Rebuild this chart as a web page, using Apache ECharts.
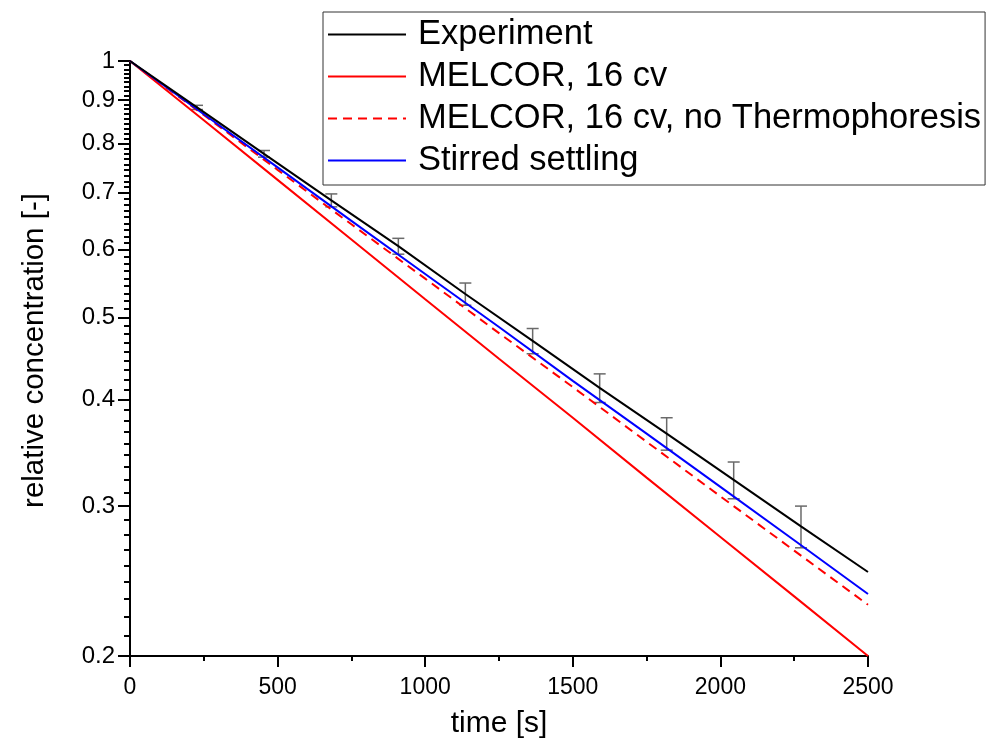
<!DOCTYPE html>
<html><head><meta charset="utf-8">
<script src="https://cdn.jsdelivr.net/npm/echarts@6/dist/echarts.min.js"></script>
<style>html,body{margin:0;padding:0;background:#fff}#c{width:1000px;height:749px}</style>
</head><body><div id="c"></div>
<script>
// ---- data ----
const expTime   = [0, 227, 454, 682, 909, 1136, 1364, 1591, 1818, 2045, 2273, 2500];
const expValue  = [1, 0.882, 0.778, 0.686, 0.606, 0.5325, 0.469, 0.413, 0.365, 0.322, 0.284, 0.251];
const errTime   = [227, 454, 682, 909, 1136, 1364, 1591, 1818, 2045, 2273];
const errCenter = [0.882, 0.778, 0.686, 0.606, 0.5325, 0.469, 0.413, 0.365, 0.322, 0.284];
const errHalf   = [0.005, 0.007, 0.012, 0.013, 0.016, 0.016, 0.016, 0.016, 0.016, 0.016];
const modelTime = [0, 250, 500, 750, 1000, 1250, 1500, 1750, 2000, 2250, 2500];
const melcor16  = [1, 0.852, 0.725, 0.617, 0.525, 0.447, 0.381, 0.324, 0.276, 0.235, 0.200];
const melcorNoT = [1, 0.864, 0.745, 0.643, 0.555, 0.479, 0.414, 0.357, 0.308, 0.266, 0.2297];
const stirred   = [1, 0.866, 0.750, 0.649, 0.562, 0.487, 0.421, 0.365, 0.316, 0.2735, 0.2365];
const yTickLabels = ['0.2','0.3','0.4','0.5','0.6','0.7','0.8','0.9','1'];
const xTickLabels = ['0','500','1000','1500','2000','2500'];
const seriesNames = ['Experiment', 'MELCOR, 16 cv', 'MELCOR, 16 cv, no Thermophoresis', 'Stirred settling'];

// ---- helpers ----
const L = v => Math.log10(v);
const yMajor = yTickLabels.map(s => L(parseFloat(s)));
const yMinor = [];
for (let i = 0; i < yTickLabels.length - 1; i++) {
  const a = parseFloat(yTickLabels[i]), b = parseFloat(yTickLabels[i + 1]);
  for (let k = 1; k <= 8; k++) yMinor.push(L(a + (b - a) * k / 9));
}
const labelFor = v => {
  let best = 0;
  yMajor.forEach((m, i) => { if (Math.abs(m - v) < Math.abs(yMajor[best] - v)) best = i; });
  return yTickLabels[best];
};
const pair = (xs, ys) => xs.map((x, i) => [x, L(ys[i])]);
const FONT = 'Liberation Sans, Arial, sans-serif';

const chart = echarts.init(document.getElementById('c'), null, {renderer: 'canvas'});
const yBase = {
  type: 'value', min: L(0.2), max: 0, position: 'left', offset: 0,
  splitLine: {show: false}
};
chart.setOption({
  animation: false,
  backgroundColor: '#fff',
  grid: {left: 130, right: 132, top: 61, bottom: 93, containLabel: false},
  legend: {
    data: seriesNames, orient: 'vertical', left: 323, top: 12,
    itemWidth: 78, itemHeight: 4, itemGap: 7,
    padding: [5, 4, 7, 4],
    borderColor: '#333', borderWidth: 1, backgroundColor: '#fff',
    itemStyle: {opacity: 0},
    textStyle: {fontSize: 34.5, fontFamily: FONT, color: '#000', padding: [0, 0, 0, 7]}
  },
  xAxis: {
    type: 'value', min: 0, max: 2500, interval: 500,
    name: 'time [s]', nameLocation: 'middle', nameGap: 53,
    nameTextStyle: {fontSize: 30, fontFamily: FONT, color: '#000'},
    axisLine: {show: true, onZero: false, lineStyle: {color: '#000', width: 2}},
    axisTick: {show: true, length: 11, lineStyle: {color: '#000', width: 2}},
    minorTick: {show: true, splitNumber: 2, length: 5, lineStyle: {color: '#000', width: 2}},
    axisLabel: {fontSize: 23, fontFamily: FONT, color: '#000', margin: 20,
      formatter: v => xTickLabels[Math.round(v / 500)]},
    splitLine: {show: false}
  },
  yAxis: [
    Object.assign({}, yBase, {
      name: 'relative concentration [-]', nameLocation: 'middle', nameGap: 80,
      nameTextStyle: {fontSize: 29.5, fontFamily: FONT, color: '#000', padding: [0, 0, 0, 16]},
      axisLine: {show: true, onZero: false, lineStyle: {color: '#000', width: 2}},
      axisTick: {show: true, length: 12, customValues: yMajor, lineStyle: {color: '#000', width: 2}},
      axisLabel: {show: true, customValues: yMajor, fontSize: 24, fontFamily: FONT, color: '#000', margin: 15,
        formatter: v => labelFor(v)}
    }),
    Object.assign({}, yBase, {
      axisLine: {show: false},
      axisTick: {show: true, length: 6, customValues: yMinor, lineStyle: {color: '#000', width: 2}},
      axisLabel: {show: false}
    })
  ],
  series: [
    {
      type: 'custom', name: 'errors', yAxisIndex: 0, z: 1,
      data: errTime.map((t, i) => [t, L(errCenter[i] - errHalf[i]), L(errCenter[i] + errHalf[i])]),
      renderItem: (params, api) => {
        const x = api.value(0);
        const lo = api.coord([x, api.value(1)]);
        const hi = api.coord([x, api.value(2)]);
        const w = 6, st = {stroke: '#6a6a6a', lineWidth: 1.5};
        return {type: 'group', children: [
          {type: 'line', shape: {x1: lo[0], y1: lo[1], x2: hi[0], y2: hi[1]}, style: st},
          {type: 'line', shape: {x1: hi[0] - w, y1: hi[1], x2: hi[0] + w, y2: hi[1]}, style: st},
          {type: 'line', shape: {x1: lo[0] - w, y1: lo[1], x2: lo[0] + w, y2: lo[1]}, style: st}
        ]};
      }
    },
    {name: seriesNames[0], type: 'line', data: pair(expTime, expValue), symbol: 'none', z: 5,
      lineStyle: {color: '#000', width: 2}, itemStyle: {color: '#000'}},
    {name: seriesNames[1], type: 'line', data: pair(modelTime, melcor16), symbol: 'none', z: 3,
      lineStyle: {color: '#ff0000', width: 2}, itemStyle: {color: '#ff0000'}},
    {name: seriesNames[2], type: 'line', data: pair(modelTime, melcorNoT), symbol: 'none', z: 3,
      lineStyle: {color: '#ff0000', width: 2, type: [9, 6]}, itemStyle: {color: '#ff0000'}},
    {name: seriesNames[3], type: 'line', data: pair(modelTime, stirred), symbol: 'none', z: 4,
      lineStyle: {color: '#0000ff', width: 2}, itemStyle: {color: '#0000ff'}}
  ]
});
</script></body></html>
